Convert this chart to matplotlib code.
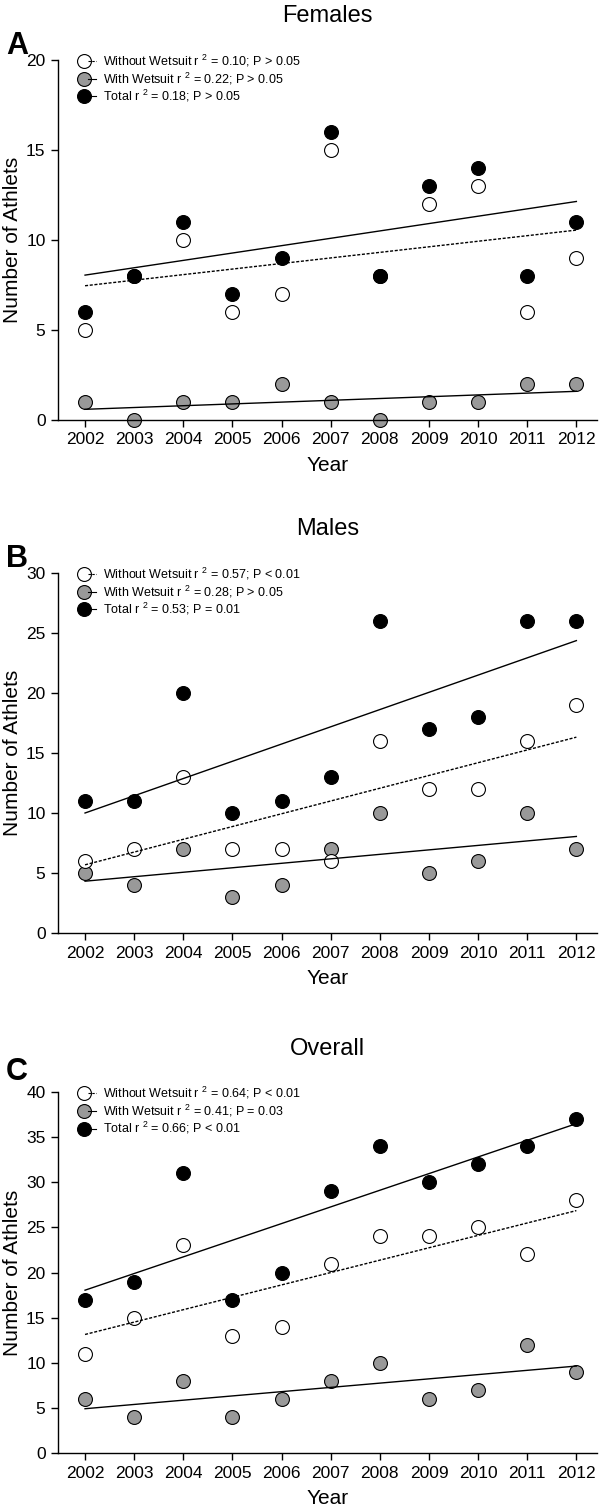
import numpy as np
import matplotlib
matplotlib.use("Agg")
from matplotlib import pyplot as plt
from matplotlib.lines import Line2D
from matplotlib.legend_handler import HandlerTuple

plt.rcParams["font.family"] = ["Liberation Sans", "DejaVu Sans"]
plt.rcParams["mathtext.fontset"] = "custom"
plt.rcParams["mathtext.rm"] = "Liberation Sans"
plt.rcParams["mathtext.it"] = "Liberation Sans"

years = [2002, 2003, 2004, 2005, 2006, 2007, 2008, 2009, 2010, 2011, 2012]

female_without = [5, 8, 10, 6, 7, 15, 8, 12, 13, 6, 9]
female_with = [1, 0, 1, 1, 2, 1, 0, 1, 1, 2, 2]
female_total = [6, 8, 11, 7, 9, 16, 8, 13, 14, 8, 11]
female_labels = [
    "Without Wetsuit r $^{2}$ = 0.10; P > 0.05",
    "With Wetsuit r $^{2}$ = 0.22; P > 0.05",
    "Total r $^{2}$ = 0.18; P > 0.05",
]

male_without = [6, 7, 13, 7, 7, 6, 16, 12, 12, 16, 19]
male_with = [5, 4, 7, 3, 4, 7, 10, 5, 6, 10, 7]
male_total = [11, 11, 20, 10, 11, 13, 26, 17, 18, 26, 26]
male_labels = [
    "Without Wetsuit r $^{2}$ = 0.57; P < 0.01",
    "With Wetsuit r $^{2}$ = 0.28; P > 0.05",
    "Total r $^{2}$ = 0.53; P = 0.01",
]

overall_without = [11, 15, 23, 13, 14, 21, 24, 24, 25, 22, 28]
overall_with = [6, 4, 8, 4, 6, 8, 10, 6, 7, 12, 9]
overall_total = [17, 19, 31, 17, 20, 29, 34, 30, 32, 34, 37]
overall_labels = [
    "Without Wetsuit r $^{2}$ = 0.64; P < 0.01",
    "With Wetsuit r $^{2}$ = 0.41; P = 0.03",
    "Total r $^{2}$ = 0.66; P < 0.01",
]

GREY = "#999999"
DOTTED = (0, (2.2, 1.2))
MS = 10


def fit_line(ax, x, y, ls):
    slope, intercept = np.polyfit(x, y, 1)
    xs = np.array([x[0], x[-1]])
    ax.plot(xs, slope * xs + intercept, color="black", lw=1.0, ls=ls, zorder=5)


def legend_handle(face, ls):
    # marker first, line over it (as in the reference legend)
    dot = Line2D([], [], ls="none", marker="o", ms=MS, mfc=face, mec="black", mew=0.8)
    line = Line2D([], [], color="black", lw=0.8, ls=ls)
    return (dot, line)


def draw_panel(ax, title, letter, without, with_, total, labels, ymax, letter_gap):
    x = np.array(years)
    ax.plot(x, with_, "o", ms=MS, mfc=GREY, mec="black", mew=0.8, zorder=2, clip_on=False)
    ax.plot(x, without, "o", ms=MS, mfc="white", mec="black", mew=0.8, zorder=3, clip_on=False)
    ax.plot(x, total, "o", ms=MS, mfc="black", mec="black", mew=0.8, zorder=4, clip_on=False)

    fit_line(ax, x, without, DOTTED)
    fit_line(ax, x, with_, "-")
    fit_line(ax, x, total, "-")

    ax.set_xlim(2001.45, 2012.42)
    ax.set_ylim(0, ymax)
    ax.set_xticks(years)
    ax.set_yticks(np.arange(0, ymax + 1, 5))
    ax.tick_params(labelsize=12.5, length=5, width=1, direction="out", pad=4)
    for s in ["top", "right"]:
        ax.spines[s].set_visible(False)
    for s in ["left", "bottom"]:
        ax.spines[s].set_linewidth(1)

    ax.set_xlabel("Year", fontsize=15, labelpad=6)
    ax.set_ylabel("Number of Athlets", fontsize=15)
    ax.yaxis.set_label_coords(-0.066, 0.5)
    ax.set_title(title, fontsize=17, pad=27)

    handles = [
        legend_handle("white", DOTTED),
        legend_handle(GREY, "-"),
        legend_handle("black", "-"),
    ]
    ax.legend(handles, labels, loc="upper left", bbox_to_anchor=(0.04, 1.02),
              handler_map={tuple: HandlerTuple(ndivide=None)},
              frameon=False, fontsize=9, handlelength=1.3, handletextpad=0.6,
              labelspacing=0.12, borderpad=0, borderaxespad=0)

    pos = ax.get_position()
    fig.text(0.01, pos.y1 + letter_gap / 1509, letter, fontsize=22, fontweight="bold",
             ha="left", va="baseline")


fig = plt.figure(figsize=(6, 15.09), dpi=100)
ax_a = fig.add_axes([0.0967, 0.7217, 0.8983, 0.2386])
ax_b = fig.add_axes([0.0967, 0.3817, 0.8983, 0.2386])
ax_c = fig.add_axes([0.0967, 0.0371, 0.8983, 0.2392])

draw_panel(ax_a, "Females", "A", female_without, female_with, female_total, female_labels, 20, 6)
draw_panel(ax_b, "Males", "B", male_without, male_with, male_total, male_labels, 30, 6)
draw_panel(ax_c, "Overall", "C", overall_without, overall_with, overall_total, overall_labels, 40, 12)

fig.savefig("out.png", dpi=100)
